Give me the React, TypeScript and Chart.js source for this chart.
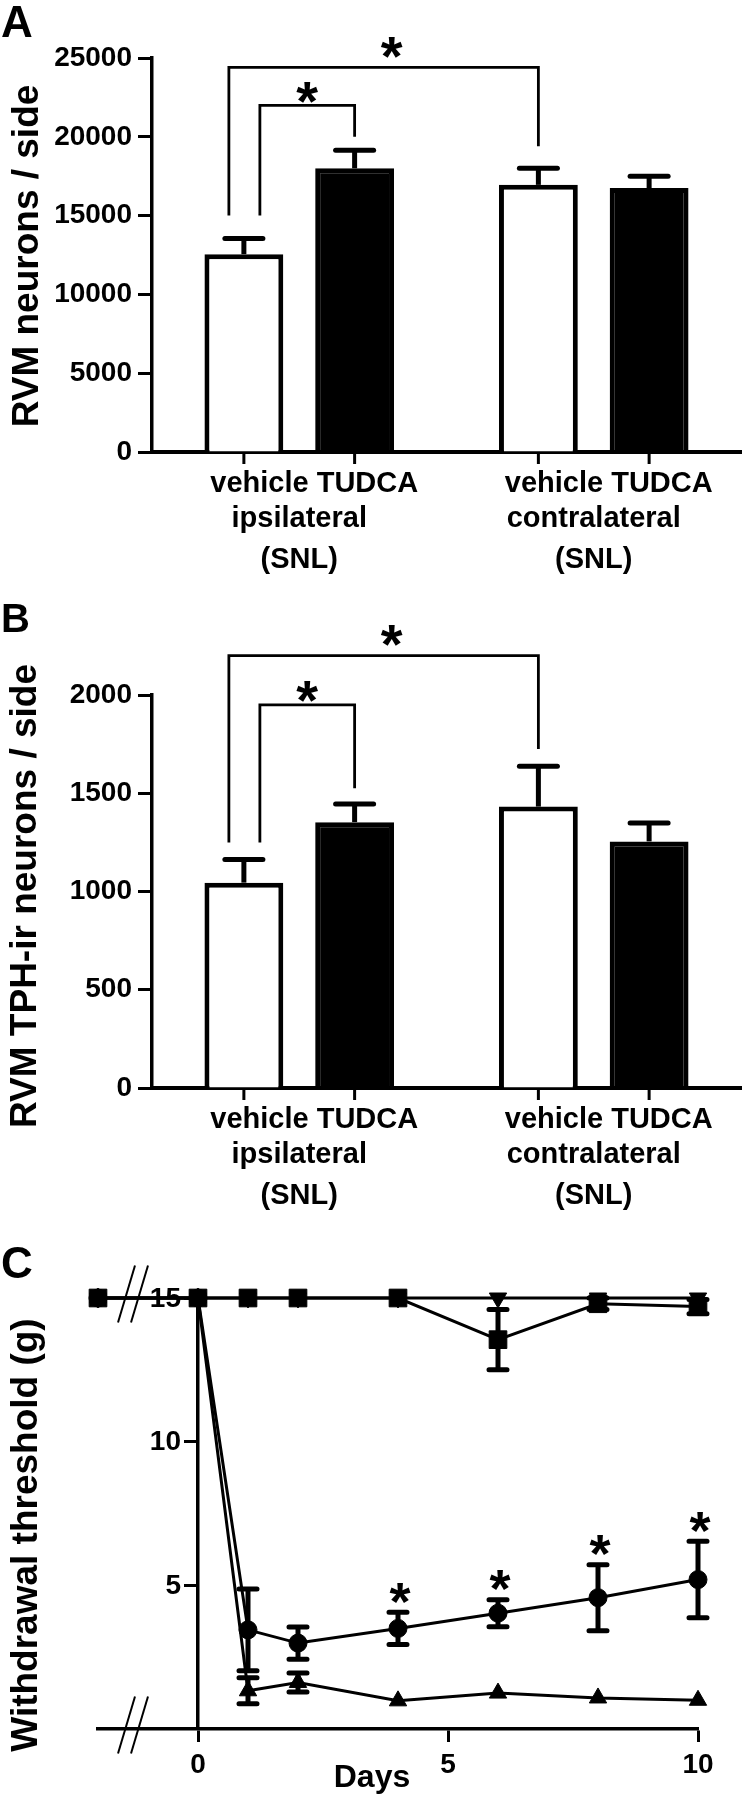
import React, { useEffect, useRef } from "react";
import { Chart, registerables } from "chart.js";
Chart.register(...registerables);

const FONT = "'Liberation Sans', Arial, Helvetica, sans-serif";

// ---------- Panels A & B (bar charts) ----------
const groupLabels = ["ipsilateral", "contralateral"];
const groupNote = "(SNL)";
const treatments = ["vehicle", "TUDCA"];

const aVehicle = [12550, 16950];
const aVehicleSem = [1000, 1050];
const aTudca = [18000, 16750];
const aTudcaSem = [1150, 750];
const aTicks = [0, 5000, 10000, 15000, 20000, 25000];
const aBrackets = [
  { from: 0, to: 2, left: 15000, top: 24400, right: 19400 },
  { from: 0, to: 1, left: 15000, top: 22000, right: 20000 },
];

const bVehicle = [1045, 1432];
const bVehicleSem = [118, 205];
const bTudca = [1353, 1255];
const bTudcaSem = [92, 93];
const bTicks = [0, 500, 1000, 1500, 2000];
const bBrackets = [
  { from: 0, to: 2, left: 1250, top: 2200, right: 1725 },
  { from: 0, to: 1, left: 1250, top: 1950, right: 1525 },
];

// ---------- Panel C (time course) ----------
const days = [-2, 0, 1, 2, 4, 6, 8, 10];
const cXTicks = [0, 5, 10];
const cYTicks = [5, 10, 15];
const squareVals = [15, 15, 15, 15, 15, 13.55, 14.8, 14.7];
const squareSem = [0, 0, 0, 0, 0, 1.05, 0.2, 0.25];
const downTriVals = [15, 15, 15, 15, 15, 15, 15, 15];
const upTriVals = [15, 15, 1.33, 1.62, 0.98, 1.25, 1.08, 1.0];
const upTriSem = [0, 0, 0.45, 0.33, 0, 0, 0, 0];
const circleVals = [15, 15, 3.45, 2.99, 3.5, 4.03, 4.57, 5.2];
const circleSem = [0, 0, 1.42, 0.56, 0.56, 0.47, 1.15, 1.33];
const circleStarDays = [4, 6, 8, 10];

function drawYTitle(ctx: CanvasRenderingContext2D, text: string, x: number, cy: number) {
  ctx.save();
  ctx.translate(x, cy);
  ctx.rotate(-Math.PI / 2);
  ctx.font = `bold 37px ${FONT}`;
  ctx.textAlign = "center";
  ctx.textBaseline = "alphabetic";
  ctx.fillStyle = "#000";
  ctx.fillText(text, 0, 0);
  ctx.restore();
}

function drawLetter(ctx: CanvasRenderingContext2D, letter: string, baseline: number, size: number) {
  ctx.save();
  ctx.font = `bold ${size}px ${FONT}`;
  ctx.textAlign = "left";
  ctx.textBaseline = "alphabetic";
  ctx.fillStyle = "#000";
  ctx.fillText(letter, 1, baseline);
  ctx.restore();
}

function drawStar(ctx: CanvasRenderingContext2D, x: number, bottom: number, size: number) {
  ctx.save();
  ctx.font = `bold ${size}px ${FONT}`;
  ctx.textAlign = "center";
  ctx.textBaseline = "alphabetic";
  ctx.fillStyle = "#000";
  ctx.fillText("*", x, bottom + size * 0.4);
  ctx.restore();
}

type BarPanel = {
  letter: string;
  letterBaseline: number;
  letterSize: number;
  title: string;
  titleX: number;
  titleCenter: number;
  vehicle: number[];
  vehicleSem: number[];
  tudca: number[];
  tudcaSem: number[];
  ticks: number[];
  max: number;
  brackets: { from: number; to: number; left: number; top: number; right: number }[];
  top: number;
  height: number;
  areaBottom: number;
};

function makeBarChart(canvas: HTMLCanvasElement, p: BarPanel) {
  const vals = [p.vehicle, p.tudca];
  const sems = [p.vehicleSem, p.tudcaSem];
  const plugin = {
    id: "barPanel" + p.letter,
    afterDatasetsDraw(chart: any) {
      const ctx: CanvasRenderingContext2D = chart.ctx;
      const ys = chart.scales.y;
      const area = chart.chartArea;
      const barEl = (k: number) => chart.getDatasetMeta(k % 2).data[Math.floor(k / 2)];
      ctx.save();
      ctx.strokeStyle = "#000";
      ctx.fillStyle = "#000";
      // error bars
      for (let j = 0; j < groupLabels.length; j++) {
        for (let d = 0; d < 2; d++) {
          const el = chart.getDatasetMeta(d).data[j];
          const top = ys.getPixelForValue(vals[d][j] + sems[d][j]);
          ctx.lineWidth = 5;
          ctx.lineCap = "butt";
          ctx.beginPath();
          ctx.moveTo(el.x, el.y);
          ctx.lineTo(el.x, top);
          ctx.stroke();
          ctx.lineCap = "round";
          ctx.beginPath();
          ctx.moveTo(el.x - 19, top);
          ctx.lineTo(el.x + 19, top);
          ctx.stroke();
        }
      }
      ctx.lineCap = "butt";
      // x tick marks under each bar
      ctx.lineWidth = 3;
      for (let k = 0; k < groupLabels.length * 2; k++) {
        const el = barEl(k);
        ctx.beginPath();
        ctx.moveTo(el.x, area.bottom);
        ctx.lineTo(el.x, area.bottom + 12);
        ctx.stroke();
      }
      // category labels
      ctx.font = `bold 29px ${FONT}`;
      ctx.textAlign = "center";
      ctx.textBaseline = "alphabetic";
      for (let j = 0; j < groupLabels.length; j++) {
        const b0 = barEl(j * 2);
        const b1 = barEl(j * 2 + 1);
        const cx = (b0.x + b1.x) / 2;
        ctx.fillText(treatments.join(" "), cx + 15, area.bottom + 40);
        ctx.fillText(groupLabels[j], cx, area.bottom + 75);
        ctx.fillText(groupNote, cx, area.bottom + 116);
      }
      // significance brackets
      ctx.lineWidth = 2.8;
      p.brackets.forEach((br, i) => {
        const xL = barEl(br.from).x + (i === 0 ? -15 : 16);
        const xR = barEl(br.to).x;
        const yT = ys.getPixelForValue(br.top);
        ctx.beginPath();
        ctx.moveTo(xL, ys.getPixelForValue(br.left));
        ctx.lineTo(xL, yT);
        ctx.lineTo(xR, yT);
        ctx.lineTo(xR, ys.getPixelForValue(br.right));
        ctx.stroke();
        drawStar(ctx, (xL + xR) / 2 + (i === 0 ? 8 : 0), yT - (i === 0 ? 15 : 8), 56);
      });
      ctx.restore();
      drawLetter(ctx, p.letter, p.letterBaseline, p.letterSize);
      drawYTitle(ctx, p.title, p.titleX, p.titleCenter);
    },
  };
  return new Chart(canvas, {
    type: "bar",
    data: {
      labels: groupLabels,
      datasets: [
        {
          label: treatments[0],
          data: p.vehicle,
          backgroundColor: "#fff",
          borderColor: "#000",
          borderWidth: 5,
          categoryPercentage: 0.752,
          barPercentage: 0.712,
        },
        {
          label: treatments[1],
          data: p.tudca,
          backgroundColor: "#000",
          borderColor: "#000",
          borderWidth: 5,
          categoryPercentage: 0.752,
          barPercentage: 0.712,
        },
      ],
    },
    options: {
      responsive: false,
      animation: false,
      events: [],
      layout: { padding: { top: p.top, left: 0, right: 4, bottom: 0 } },
      plugins: { legend: { display: false }, tooltip: { enabled: false } },
      scales: {
        x: {
          grid: { display: false },
          ticks: { display: false },
          border: { display: true, color: "#000", width: 4 },
          afterFit: (s: any) => {
            s.height = p.height - p.areaBottom;
          },
        },
        y: {
          min: 0,
          max: p.max,
          afterBuildTicks: (s: any) => {
            s.ticks = p.ticks.map((v) => ({ value: v }));
          },
          ticks: {
            color: "#000",
            padding: 6,
            font: { family: FONT, size: 28, weight: "bold" },
            callback: (v: any) => String(v),
          },
          grid: { drawOnChartArea: false, drawTicks: true, tickLength: 14, tickWidth: 3, color: "#000" },
          border: { display: true, color: "#000", width: 3.5 },
          afterFit: (s: any) => {
            s.width = 152;
          },
        },
      },
    } as any,
    plugins: [plugin],
  });
}

function makeTimeChart(canvas: HTMLCanvasElement) {
  const pts = (v: number[]) => days.map((d, i) => ({ x: d, y: v[i] }));
  const semSets = [
    { vals: squareVals, sem: squareSem },
    { vals: upTriVals, sem: upTriSem },
    { vals: circleVals, sem: circleSem },
  ];
  const plugin = {
    id: "timePanel",
    beforeDatasetsDraw(chart: any) {
      const ctx: CanvasRenderingContext2D = chart.ctx;
      const xs = chart.scales.x;
      const ys = chart.scales.y;
      ctx.save();
      ctx.strokeStyle = "#000";
      ctx.lineWidth = 5;
      semSets.forEach((s) => {
        days.forEach((d, i) => {
          if (!s.sem[i]) return;
          const x = xs.getPixelForValue(d);
          const y1 = ys.getPixelForValue(s.vals[i] + s.sem[i]);
          const y2 = ys.getPixelForValue(s.vals[i] - s.sem[i]);
          ctx.lineCap = "butt";
          ctx.beginPath();
          ctx.moveTo(x, y1);
          ctx.lineTo(x, y2);
          ctx.stroke();
          ctx.lineCap = "round";
          ctx.beginPath();
          ctx.moveTo(x - 9, y1);
          ctx.lineTo(x + 9, y1);
          ctx.moveTo(x - 9, y2);
          ctx.lineTo(x + 9, y2);
          ctx.stroke();
        });
      });
      ctx.restore();
    },
    afterDatasetsDraw(chart: any) {
      const ctx: CanvasRenderingContext2D = chart.ctx;
      const xs = chart.scales.x;
      const ys = chart.scales.y;
      const area = chart.chartArea;
      circleStarDays.forEach((d) => {
        const i = days.indexOf(d);
        const top = ys.getPixelForValue(circleVals[i] + circleSem[i]);
        drawStar(ctx, xs.getPixelForValue(d) + 2, top - 14, 54);
      });
      // y tick labels (axis sits at day 0)
      ctx.save();
      ctx.font = `bold 28px ${FONT}`;
      ctx.textAlign = "right";
      ctx.textBaseline = "middle";
      ctx.fillStyle = "#000";
      const axisX = xs.getPixelForValue(0);
      ys.ticks.forEach((t: any) => {
        ctx.fillText(String(t.value), axisX - 17, ys.getPixelForValue(t.value) + 1);
      });
      ctx.restore();
      // axis breaks
      ctx.save();
      ctx.strokeStyle = "#000";
      ctx.lineWidth = 2;
      const bx = xs.getPixelForValue(-1.3);
      [ys.getPixelForValue(15) - 4, area.bottom - 4].forEach((cy) => {
        [-6.5, 6.5].forEach((off) => {
          ctx.beginPath();
          ctx.moveTo(bx + off + 8.5, cy - 28.5);
          ctx.lineTo(bx + off - 8.5, cy + 28.5);
          ctx.stroke();
        });
      });
      ctx.restore();
      drawLetter(ctx, "C", 53, 44);
      drawYTitle(ctx, "Withdrawal threshold (g)", 37, 310);
      ctx.save();
      ctx.font = `bold 32px ${FONT}`;
      ctx.textAlign = "center";
      ctx.fillStyle = "#000";
      ctx.fillText("Days", 372, 562);
      ctx.restore();
    },
  };
  const common = { borderColor: "#000", backgroundColor: "#000", borderWidth: 3, pointBorderWidth: 1, clip: false as any, tension: 0 };
  return new Chart(canvas, {
    type: "line",
    data: {
      datasets: [
        { ...common, label: "square", data: pts(squareVals), pointStyle: "rect", pointRadius: 12.5 },
        { ...common, label: "down", data: pts(downTriVals), pointStyle: "triangle", pointRotation: 180, pointRadius: 10 },
        { ...common, label: "up", data: pts(upTriVals), pointStyle: "triangle", pointRadius: 10 },
        { ...common, label: "circle", data: pts(circleVals), pointStyle: "circle", pointRadius: 9 },
      ],
    },
    options: {
      responsive: false,
      animation: false,
      events: [],
      layout: { padding: { left: 98, right: 47, top: 73, bottom: 0 } },
      plugins: { legend: { display: false }, tooltip: { enabled: false } },
      scales: {
        x: {
          type: "linear",
          min: -2,
          max: 10,
          afterBuildTicks: (s: any) => {
            s.ticks = cXTicks.map((v) => ({ value: v }));
          },
          ticks: {
            color: "#000",
            padding: 6,
            autoSkip: false,
            maxRotation: 0,
            font: { family: FONT, size: 28, weight: "bold" },
            callback: (v: any) => String(v),
          },
          grid: { drawOnChartArea: false, tickLength: 13, tickWidth: 3, color: "#000" },
          border: { display: true, color: "#000", width: 3.5 },
          afterFit: (s: any) => {
            s.height = 71;
          },
        },
        y: {
          type: "linear",
          min: 0,
          max: 15,
          position: { x: 0 },
          afterBuildTicks: (s: any) => {
            s.ticks = cYTicks.map((v) => ({ value: v }));
          },
          ticks: { display: false },
          grid: { drawOnChartArea: false, tickLength: 12, tickWidth: 3, color: "#000" },
          border: { display: true, color: "#000", width: 3.5 },
        },
      },
    } as any,
    plugins: [plugin],
  });
}

export default function App() {
  const aRef = useRef<HTMLCanvasElement>(null);
  const bRef = useRef<HTMLCanvasElement>(null);
  const cRef = useRef<HTMLCanvasElement>(null);
  useEffect(() => {
    const a = makeBarChart(aRef.current!, {
      letter: "A",
      letterBaseline: 37,
      letterSize: 44,
      title: "RVM neurons / side",
      titleX: 38,
      titleCenter: 256,
      vehicle: aVehicle,
      vehicleSem: aVehicleSem,
      tudca: aTudca,
      tudcaSem: aTudcaSem,
      ticks: aTicks,
      max: 25000,
      brackets: aBrackets,
      top: 58,
      height: 600,
      areaBottom: 452,
    });
    const b = makeBarChart(bRef.current!, {
      letter: "B",
      letterBaseline: 32,
      letterSize: 40,
      title: "RVM TPH-ir neurons / side",
      titleX: 36,
      titleCenter: 296,
      vehicle: bVehicle,
      vehicleSem: bVehicleSem,
      tudca: bTudca,
      tudcaSem: bTudcaSem,
      ticks: bTicks,
      max: 2000,
      brackets: bBrackets,
      top: 95,
      height: 625,
      areaBottom: 488,
    });
    const c = makeTimeChart(cRef.current!);
    return () => {
      a.destroy();
      b.destroy();
      c.destroy();
    };
  }, []);
  return (
    <div style={{ position: "absolute", left: 0, top: 0, width: 745, height: 1800, background: "#fff" }}>
      <canvas ref={aRef} width={745} height={600} style={{ position: "absolute", left: 0, top: 0 }} />
      <canvas ref={bRef} width={745} height={625} style={{ position: "absolute", left: 0, top: 600 }} />
      <canvas ref={cRef} width={745} height={575} style={{ position: "absolute", left: 0, top: 1225 }} />
    </div>
  );
}
